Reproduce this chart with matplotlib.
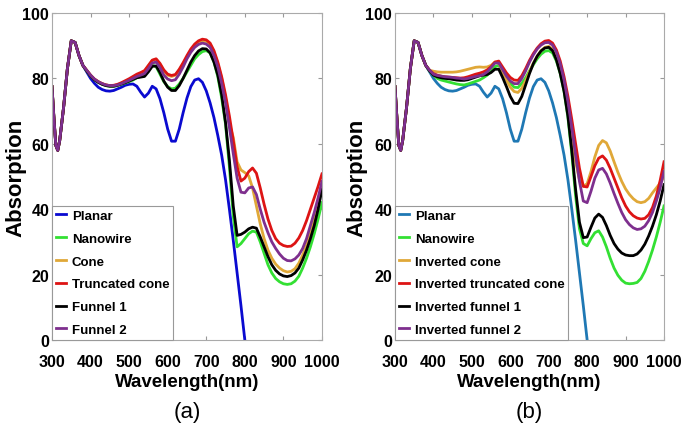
import numpy as np
import matplotlib
matplotlib.use("Agg")
import matplotlib.pyplot as plt

# longitudes de onda (nm)
wl = [300, 305, 310, 315] + list(range(320, 1001, 10))

# tramo comun 300-380 nm
inicio = [77.5, 68, 59.5, 58, 61, 71, 83, 91.5, 91, 87, 84]

planar = inicio + [
    82, 80, 78.5, 77.3, 76.6, 76.2, 76.1, 76.3, 76.8, 77.3, 77.9, 78.2, 78.3, 77.6, 75.8,
    74.3, 75.5, 77.6, 76.8, 73.8, 69.5, 64.5, 60.8, 60.8, 64.5, 69.5, 74, 77.5, 79.5,
    79.9, 78.8, 76.2, 72.5, 68, 62.5, 56.5, 49, 40, 30.5, 20.5, 10.5, 0]

# panel (a)
nanowire_a = inicio + [
    82.3, 80.8, 79.6, 78.8, 78.2, 77.8, 77.6, 77.6, 77.8, 78.2, 78.6, 79, 79.5, 80.2, 80.6,
    81, 82.5, 84, 83.6, 81.3, 79, 77.5, 76.8, 77, 78.3, 80, 82, 84, 86, 87.3, 88.2, 88.5,
    87.8, 85, 80.5, 74, 66, 53, 38, 28.5, 29.5, 31, 32.5, 33.3, 33, 30, 26.5, 23, 20.5,
    18.8, 17.8, 17.2, 17, 17.2, 18, 19.5, 22, 25, 28.5, 32.5, 37, 42]
cone_a = inicio + [
    82.5, 81, 79.8, 79, 78.4, 78, 77.8, 77.8, 78, 78.5, 79, 79.6, 80.3, 81, 81.5, 82.2,
    83.8, 85.5, 85.8, 84.3, 82.3, 81, 80.6, 81, 82.5, 84.5, 86.5, 88.5, 90, 91, 91.4, 91.3,
    90.3, 88, 84.5, 80, 74, 66, 62, 54.5, 52, 51.2, 50.2, 46.5, 41, 35.5, 31, 27.5, 25,
    23.2, 22, 21.2, 20.8, 21, 21.8, 23.5, 26, 29, 32.5, 36.5, 41.5, 47]
trunc_a = inicio + [
    82.5, 81, 79.8, 79, 78.4, 78, 77.8, 77.9, 78.2, 78.7, 79.3, 79.9, 80.6, 81.3, 81.8,
    82.4, 84, 85.6, 86, 84.6, 82.6, 81.3, 80.9, 81.2, 82.8, 84.8, 87, 89, 90.5, 91.5, 92,
    91.8, 90.8, 88.5, 85, 80.5, 75, 68.5, 61, 53, 48.6, 49.5, 51.5, 52.6, 51, 46.5, 41.5,
    37, 33.5, 31, 29.6, 28.9, 28.6, 28.7, 29.6, 31.2, 33.5, 36.5, 40, 43.5, 47, 50.8]
funnel1_a = inicio + [
    82.3, 80.8, 79.6, 78.8, 78.2, 77.8, 77.6, 77.6, 77.9, 78.3, 78.7, 79.2, 79.7, 80.2,
    80.4, 80.6, 82, 83.7, 83.8, 81.8, 79.2, 77.3, 76.3, 76.3, 77.8, 80, 82.5, 85, 87, 88.4,
    89.1, 89, 87.8, 85, 81, 75, 66.5, 55, 41, 32, 32.3, 33, 34, 34.5, 34.2, 31.5, 28.5,
    25.5, 23, 21.3, 20.2, 19.6, 19.4, 19.7, 20.5, 22, 24.5, 27.5, 31, 35, 40, 46]
funnel2_a = inicio + [
    82.5, 81, 79.8, 79, 78.4, 78, 77.8, 77.8, 78, 78.4, 78.9, 79.4, 80, 80.6, 81, 81.5, 83,
    84.7, 85, 83.3, 81, 79.8, 79.3, 79.6, 81.3, 83.5, 86, 88, 89.5, 90.4, 90.8, 90.5, 89.5,
    87, 83.5, 78.5, 72.5, 65, 57, 49.5, 45.2, 45, 46.5, 46.8, 44.5, 40, 36, 32.8, 30, 28,
    26.3, 25, 24.3, 24.2, 24.8, 26, 28, 31, 35, 39, 43.5, 48.5]

# panel (b)
nanowire_b = inicio + [
    82.3, 81, 80, 79.5, 79.2, 78.9, 78.6, 78.3, 78.1, 78, 78.3, 78.7, 79.1, 79.5, 80.2, 81,
    82.2, 83.6, 84, 82.2, 80.3, 78.5, 77.3, 77.2, 78.5, 80.2, 82.3, 84.2, 86, 87.4, 88.3,
    88.5, 87.8, 85.3, 81.5, 76, 68, 57, 44, 34, 29.5, 28.8, 31, 32.8, 33.4, 31.5, 28.5, 25,
    22, 19.8, 18.3, 17.4, 17.2, 17.3, 17.6, 18.8, 21, 24, 27.5, 31.5, 36, 41]
inv_cone_b = inicio + [
    82.5, 82.2, 82, 81.9, 81.9, 81.9, 81.9, 82, 82.2, 82.5, 82.8, 83.1, 83.4, 83.5, 83.4,
    83.5, 84, 85, 84.8, 82, 79.5, 77.3, 76, 75.7, 77, 79.3, 82, 84.7, 86.8, 88.5, 89.5,
    89.8, 89, 86.5, 82.5, 77, 70, 62, 54.5, 49, 47, 47.8, 51.5, 56, 59.5, 61, 60.3, 57.8,
    54.5, 51.3, 48.5, 46.2, 44.5, 43.2, 42.3, 42, 42.3, 43.3, 45, 46.5, 48, 50]
inv_trunc_b = inicio + [
    82.5, 81.5, 81, 80.7, 80.5, 80.4, 80.3, 80.2, 80.1, 80.2, 80.5, 80.9, 81.3, 81.6, 82,
    82.6, 83.6, 85, 85.3, 83.5, 81.7, 80.3, 79.5, 79.4, 80.8, 83, 85.5, 87.6, 89.3, 90.6,
    91.4, 91.6, 90.8, 88.7, 85.3, 80.5, 74.5, 67.5, 60, 52.5, 47, 46.8, 50, 53.3, 55.6,
    56.3, 55, 52.5, 49.5, 46.5, 43.5, 41, 39.2, 38, 37.3, 37, 37.2, 38.3, 40.5, 44, 48.8, 54.5]
inv_funnel1_b = inicio + [
    82.3, 81, 80.5, 80.2, 80, 79.9, 79.7, 79.5, 79.4, 79.4, 79.6, 80, 80.4, 80.8, 81, 81.2,
    81.8, 82.8, 82.8, 80.3, 77.5, 74.5, 72.4, 72.3, 74.5, 78, 81.5, 84.5, 86.8, 88.4, 89.3,
    89.5, 88.5, 85.7, 81.5, 76, 68.5, 58, 46, 36, 31.3, 31.5, 34.5, 37.3, 38.5, 37.5, 35,
    32, 29.5, 27.8, 26.6, 26, 25.8, 25.8, 26.3, 27.5, 29.3, 31.8, 34.8, 38.3, 42.5, 47.5]
inv_funnel2_b = inicio + [
    82.5, 81.3, 80.9, 80.7, 80.5, 80.4, 80.3, 80.1, 80, 79.8, 80, 80.3, 80.6, 80.8, 81.2,
    82, 83.3, 84.7, 84.7, 82.7, 80.7, 79.2, 78.4, 78.4, 80, 82.3, 85, 87.2, 89, 90.2, 90.9,
    91, 90.2, 88, 84.5, 79.5, 73, 65, 56.5, 48.5, 42.5, 42, 45.5, 49.5, 52, 52.5, 50.8, 48,
    44.8, 41.8, 39, 36.8, 35.3, 34.3, 33.8, 34, 34.8, 36.5, 39, 42.5, 46.5, 51.5]

labels_a = ["Planar", "Nanowire", "Cone", "Truncated cone", "Funnel 1", "Funnel 2"]
labels_b = ["Planar", "Nanowire", "Inverted cone", "Inverted truncated cone",
            "Inverted funnel 1", "Inverted funnel 2"]
series_a = [planar, nanowire_a, cone_a, trunc_a, funnel1_a, funnel2_a]
series_b = [planar, nanowire_b, inv_cone_b, inv_trunc_b, inv_funnel1_b, inv_funnel2_b]
colors_a = ["#0a0ad0", "#33e033", "#e0a838", "#dd1414", "#000000", "#7e2f8e"]
colors_b = ["#1f78b4", "#33e033", "#e0a838", "#dd1414", "#000000", "#7e2f8e"]

fuente = "Liberation Sans"

fig = plt.figure(figsize=(6.83, 4.31), dpi=100)
ax_a = fig.add_axes([0.0761, 0.2088, 0.3953, 0.7587])
ax_b = fig.add_axes([0.5783, 0.2088, 0.3939, 0.7587])

for ax, series, labels, colors, tag, ylx in [
        (ax_a, series_a, labels_a, colors_a, "(a)", -0.093),
        (ax_b, series_b, labels_b, colors_b, "(b)", -0.104)]:
    for y, lab, c in zip(series, labels, colors):
        ax.plot(wl[:len(y)], y, color=c, lw=2, label=lab)
    ax.set_xlim(300, 1000)
    ax.set_ylim(0, 100)
    ax.set_xticks(range(300, 1001, 100))
    ax.set_yticks(range(0, 101, 20))
    ax.tick_params(direction="in", top=True, right=True, length=3, color="#999999")
    ax.tick_params(axis="x", pad=10)
    ax.tick_params(axis="y", pad=2)
    for lbl in ax.get_xticklabels() + ax.get_yticklabels():
        lbl.set_family(fuente)
        lbl.set_fontweight("bold")
        lbl.set_fontsize(11.5)
    for s in ax.spines.values():
        s.set_color("#aaaaaa")
        s.set_linewidth(0.8)
    ax.set_xlabel("Wavelength(nm)", family=fuente, fontweight="bold", fontsize=13.5,
                  labelpad=3)
    ax.set_ylabel("Absorption", family=fuente, fontweight="bold", fontsize=16)
    ax.yaxis.set_label_coords(ylx, 0.5)
    leg = ax.legend(loc="lower left", borderaxespad=0, handlelength=0.8,
                    handletextpad=0.4, labelspacing=0.8, borderpad=0.3,
                    fancybox=False, framealpha=1,
                    prop={"family": fuente, "weight": "bold", "size": 9.5})
    leg.get_frame().set_edgecolor("#999999")
    leg.get_frame().set_linewidth(0.8)
    bb = ax.get_position()
    fig.text((bb.x0 + bb.x1) / 2, 0.044, tag, ha="center", va="center",
             family=fuente, fontsize=16)

fig.savefig("out.png", dpi=100)
